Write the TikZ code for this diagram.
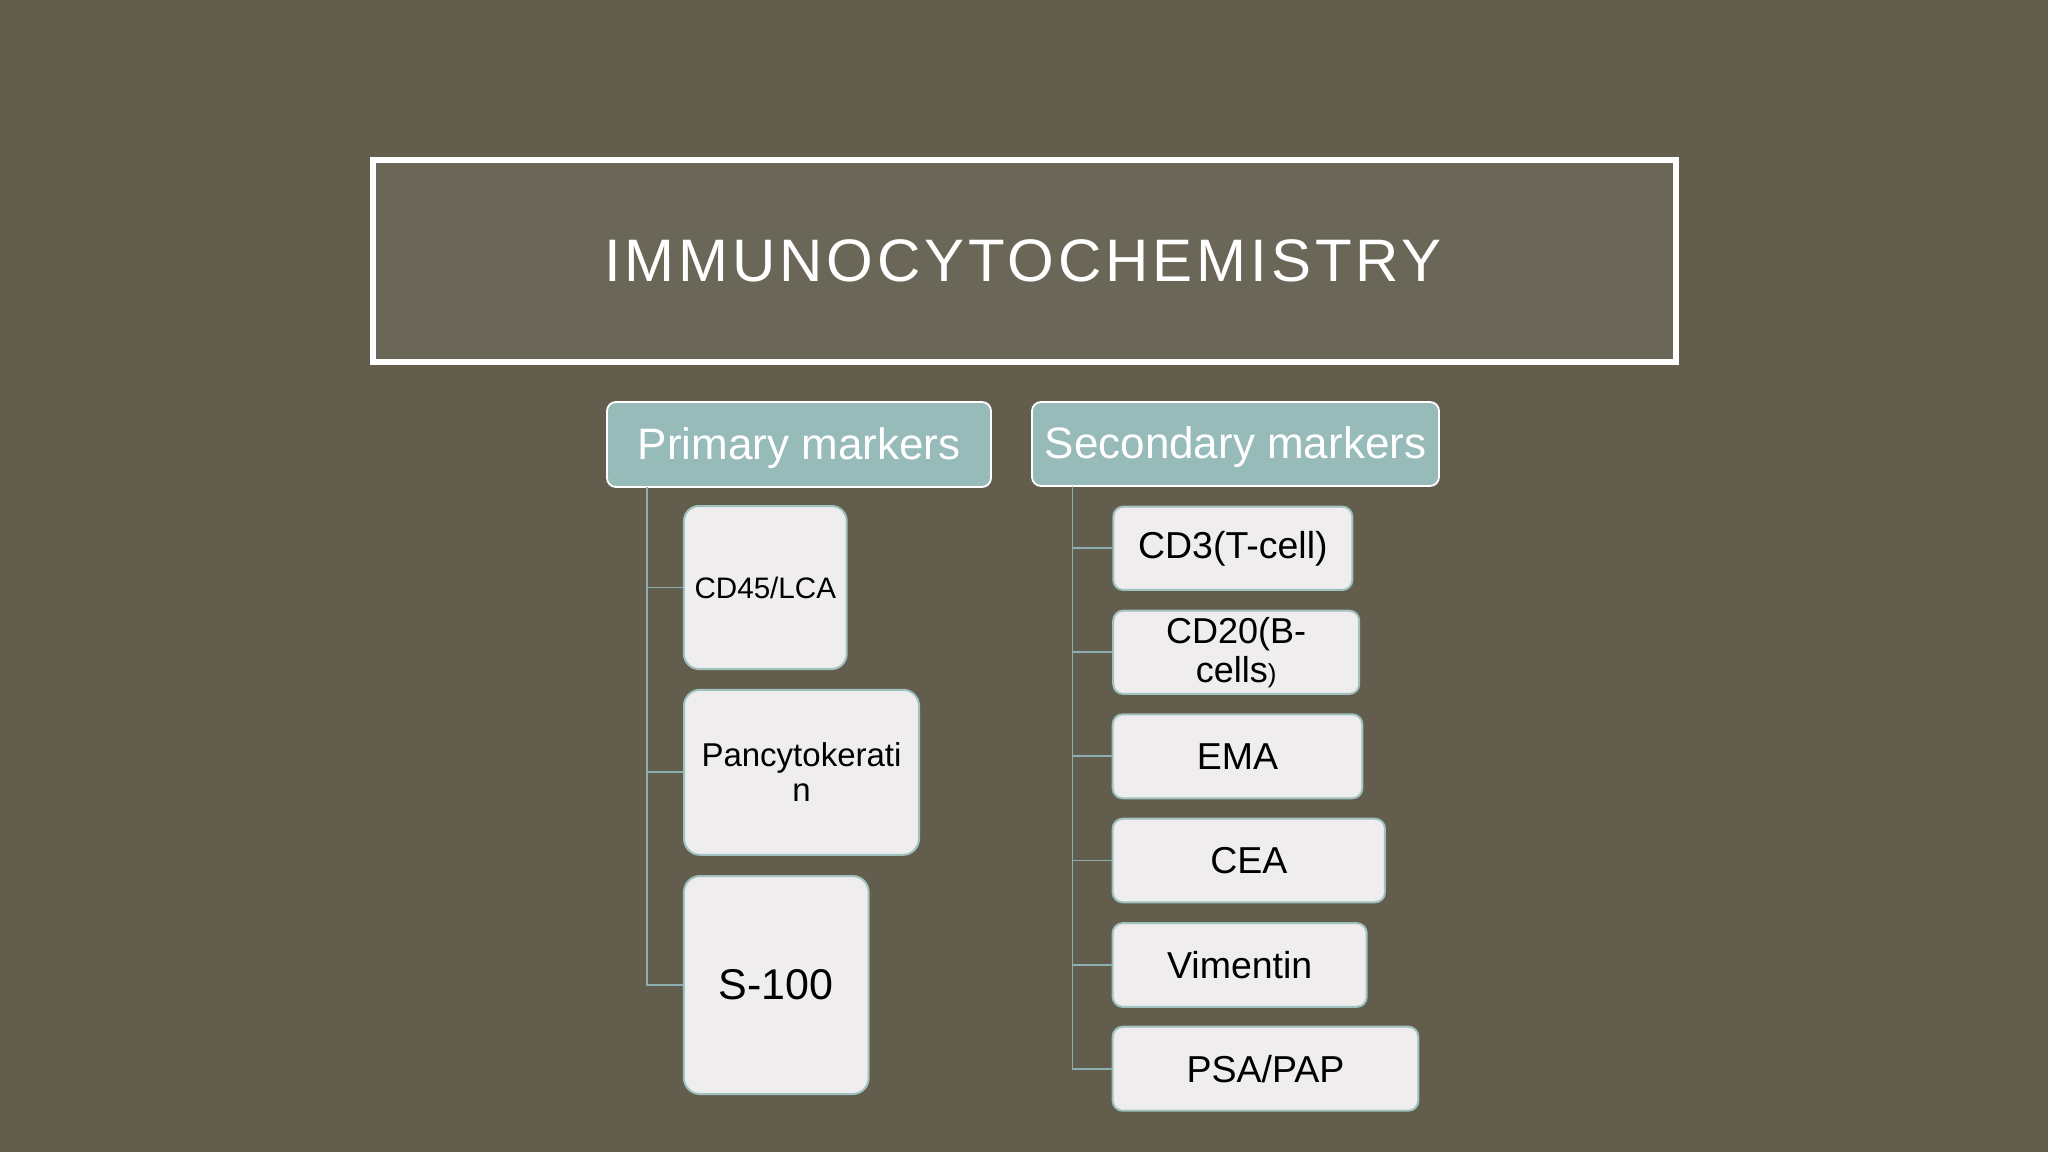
\documentclass[tikz,border=0pt]{standalone}
\usepackage{fontspec}
\setmainfont{Liberation Sans}
\definecolor{bgcol}{RGB}{99,93,78}
\definecolor{titlefill}{RGB}{107,103,88}
\definecolor{headfill}{RGB}{151,187,185}
\definecolor{leaffill}{RGB}{239,237,238}
\definecolor{leafedge}{RGB}{160,194,190}
\definecolor{conncol}{RGB}{140,176,176}
\begin{document}
\begin{tikzpicture}[x=1pt,y=-1pt,
  titlebox/.style={draw=white,line width=5.5pt,fill=titlefill},
  header/.style={rectangle,rounded corners=9pt,fill=headfill,draw=white,line width=1.8pt,
    text=white,inner sep=0pt,text depth=2pt,font=\fontsize{44}{50}\selectfont},
  leaf/.style={rectangle,rounded corners=10pt,fill=leaffill,draw=leafedge,line width=2pt,
    text=black,inner sep=0pt,align=center,font=\fontsize{37.5}{40}\selectfont},
  conn/.style={draw=conncol,line width=1.8pt}]
\fill[bgcol] (0,0) rectangle (2048,1152);
\useasboundingbox (0,0) rectangle (2048,1152);
% title
\draw[titlebox] (373,160) rectangle (1676,362);
\node[text=white,inner sep=0pt,font=\fontsize{60}{66}\selectfont\addfontfeatures{LetterSpace=6.5}] (title) at (1023,261) {IMMUNOCYTOCHEMISTRY};
% headers
\node[header,minimum width=384pt,minimum height=85pt] (prim) at (799,444.5) {Primary markers};
\node[header,minimum width=407pt,minimum height=84pt] (sec) at (1235.5,444) {Secondary markers};
% primary children
\node[leaf,rounded corners=15pt,minimum width=162.7pt,minimum height=163pt,font=\fontsize{29.6}{34}\selectfont] (cd45) at (765.3,587.5) {CD45/LCA};
\node[leaf,rounded corners=16pt,minimum width=235pt,minimum height=165pt,font=\fontsize{33}{35}\selectfont] (panck) at (801.5,772.3) {Pancytokerati\\n};
\node[leaf,rounded corners=16pt,minimum width=184.7pt,minimum height=218pt,font=\fontsize{43}{48}\selectfont] (s100) at (776.3,985) {S-100};
% secondary children
\node[leaf,minimum width=239pt,minimum height=83.3pt] (cd3) at (1232.8,548.3) {CD3(T-cell)};
\node[leaf,minimum width=246pt,minimum height=83.3pt,font=\fontsize{36}{38.7}\selectfont] (cd20) at (1236.2,652.3) {CD20(B-\\cells{\fontsize{26}{30}\selectfont)}};
\node[leaf,minimum width=249.6pt,minimum height=84pt] (ema) at (1237.5,756.3) {EMA};
\node[leaf,minimum width=272.3pt,minimum height=83.6pt] (cea) at (1248.8,860.5) {CEA};
\node[leaf,minimum width=254pt,minimum height=83.7pt] (vim) at (1239.7,965) {Vimentin};
\node[leaf,minimum width=305.6pt,minimum height=84pt] (psa) at (1265.5,1068.7) {PSA/PAP};
% connectors
\coordinate (ptop) at (646.7,487);
\coordinate (stop) at (1072.5,486);
\draw[conn] (ptop) |- (cd45.west);
\draw[conn] (ptop) |- (panck.west);
\draw[conn] (ptop) |- (s100.west);
\draw[conn] (stop) |- (cd3.west);
\draw[conn] (stop) |- (cd20.west);
\draw[conn] (stop) |- (ema.west);
\draw[conn] (stop) |- (cea.west);
\draw[conn] (stop) |- (vim.west);
\draw[conn] (stop) |- (psa.west);
\end{tikzpicture}
\end{document}
